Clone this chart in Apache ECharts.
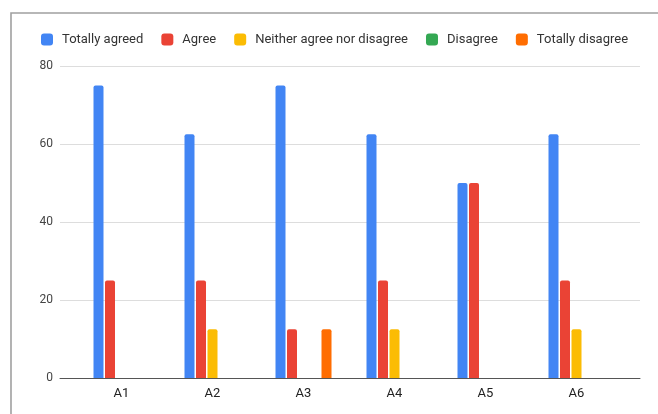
<!DOCTYPE html>
<html>
<head>
<meta charset="utf-8">
<script src="https://cdn.jsdelivr.net/npm/echarts@6/dist/echarts.min.js"></script>
<style>
html, body { margin: 0; padding: 0; background: #fff; }
#chart { width: 658px; height: 414px; }
</style>
</head>
<body>
<div id="chart"></div>
<script>
var categories = ['A1', 'A2', 'A3', 'A4', 'A5', 'A6'];
var seriesNames = ['Totally agreed', 'Agree', 'Neither agree nor disagree', 'Disagree', 'Totally disagree'];
var totallyAgreed = [75, 62.5, 75, 62.5, 50, 62.5];
var agree = [25, 25, 12.5, 25, 50, 25];
var neither = [0, 12.5, 0, 12.5, 0, 12.5];
var disagree = [0, 0, 0, 0, 0, 0];
var totallyDisagree = [0, 0, 12.5, 0, 0, 0];
var yTicks = [0, 20, 40, 60, 80];

var colors = ['#4285F4', '#EA4335', '#FBBC04', '#34A853', '#FF6D01'];
var values = [totallyAgreed, agree, neither, disagree, totallyDisagree];

var chart = echarts.init(document.getElementById('chart'));

// grid 0 holds the full-width gridlines and y labels,
// grid 1 is a bit narrower and holds the bars + category labels
var option = {
	animation: false,
	color: colors,
	textStyle: { fontFamily: 'Roboto, Arial, sans-serif' },
	graphic: [{
		type: 'rect',
		shape: { x: 11, y: 13, width: 700, height: 500 },
		style: { fill: 'none', stroke: '#a0a0a0', lineWidth: 1.6 },
		silent: true
	}],
	legend: {
		left: 36,
		top: 28,
		itemWidth: 12,
		itemHeight: 12,
		itemGap: 18,
		icon: 'roundRect',
		textStyle: { fontSize: 13, color: '#333', padding: [0, 0, 0, 4] },
		data: seriesNames
	},
	grid: [
		{ left: 60, right: 18, top: 66, bottom: 36 },
		{ left: 76, right: 36, top: 66, bottom: 36 }
	],
	xAxis: [
		{
			type: 'category',
			gridIndex: 0,
			data: categories,
			axisTick: { show: false },
			axisLabel: { show: false },
			axisLine: { lineStyle: { color: '#555', width: 1 } }
		},
		{
			type: 'category',
			gridIndex: 1,
			data: categories,
			axisTick: { show: false },
			axisLine: { show: false },
			axisLabel: { color: '#222', fontSize: 13, margin: 9 }
		}
	],
	yAxis: [
		{
			type: 'value',
			gridIndex: 0,
			min: yTicks[0],
			max: yTicks[yTicks.length - 1],
			interval: 20,
			axisLabel: { color: '#444', fontSize: 12, margin: 7 },
			splitLine: { lineStyle: { color: '#ddd' } }
		},
		{
			type: 'value',
			gridIndex: 1,
			min: yTicks[0],
			max: yTicks[yTicks.length - 1],
			interval: 20,
			show: false,
			splitLine: { show: false }
		}
	],
	series: seriesNames.map(function (name, i) {
		return {
			name: name,
			type: 'bar',
			xAxisIndex: 1,
			yAxisIndex: 1,
			barWidth: 10,
			barGap: '15%',
			itemStyle: { borderRadius: [2, 2, 0, 0] },
			data: values[i]
		};
	})
};

chart.setOption(option);
</script>
</body>
</html>
